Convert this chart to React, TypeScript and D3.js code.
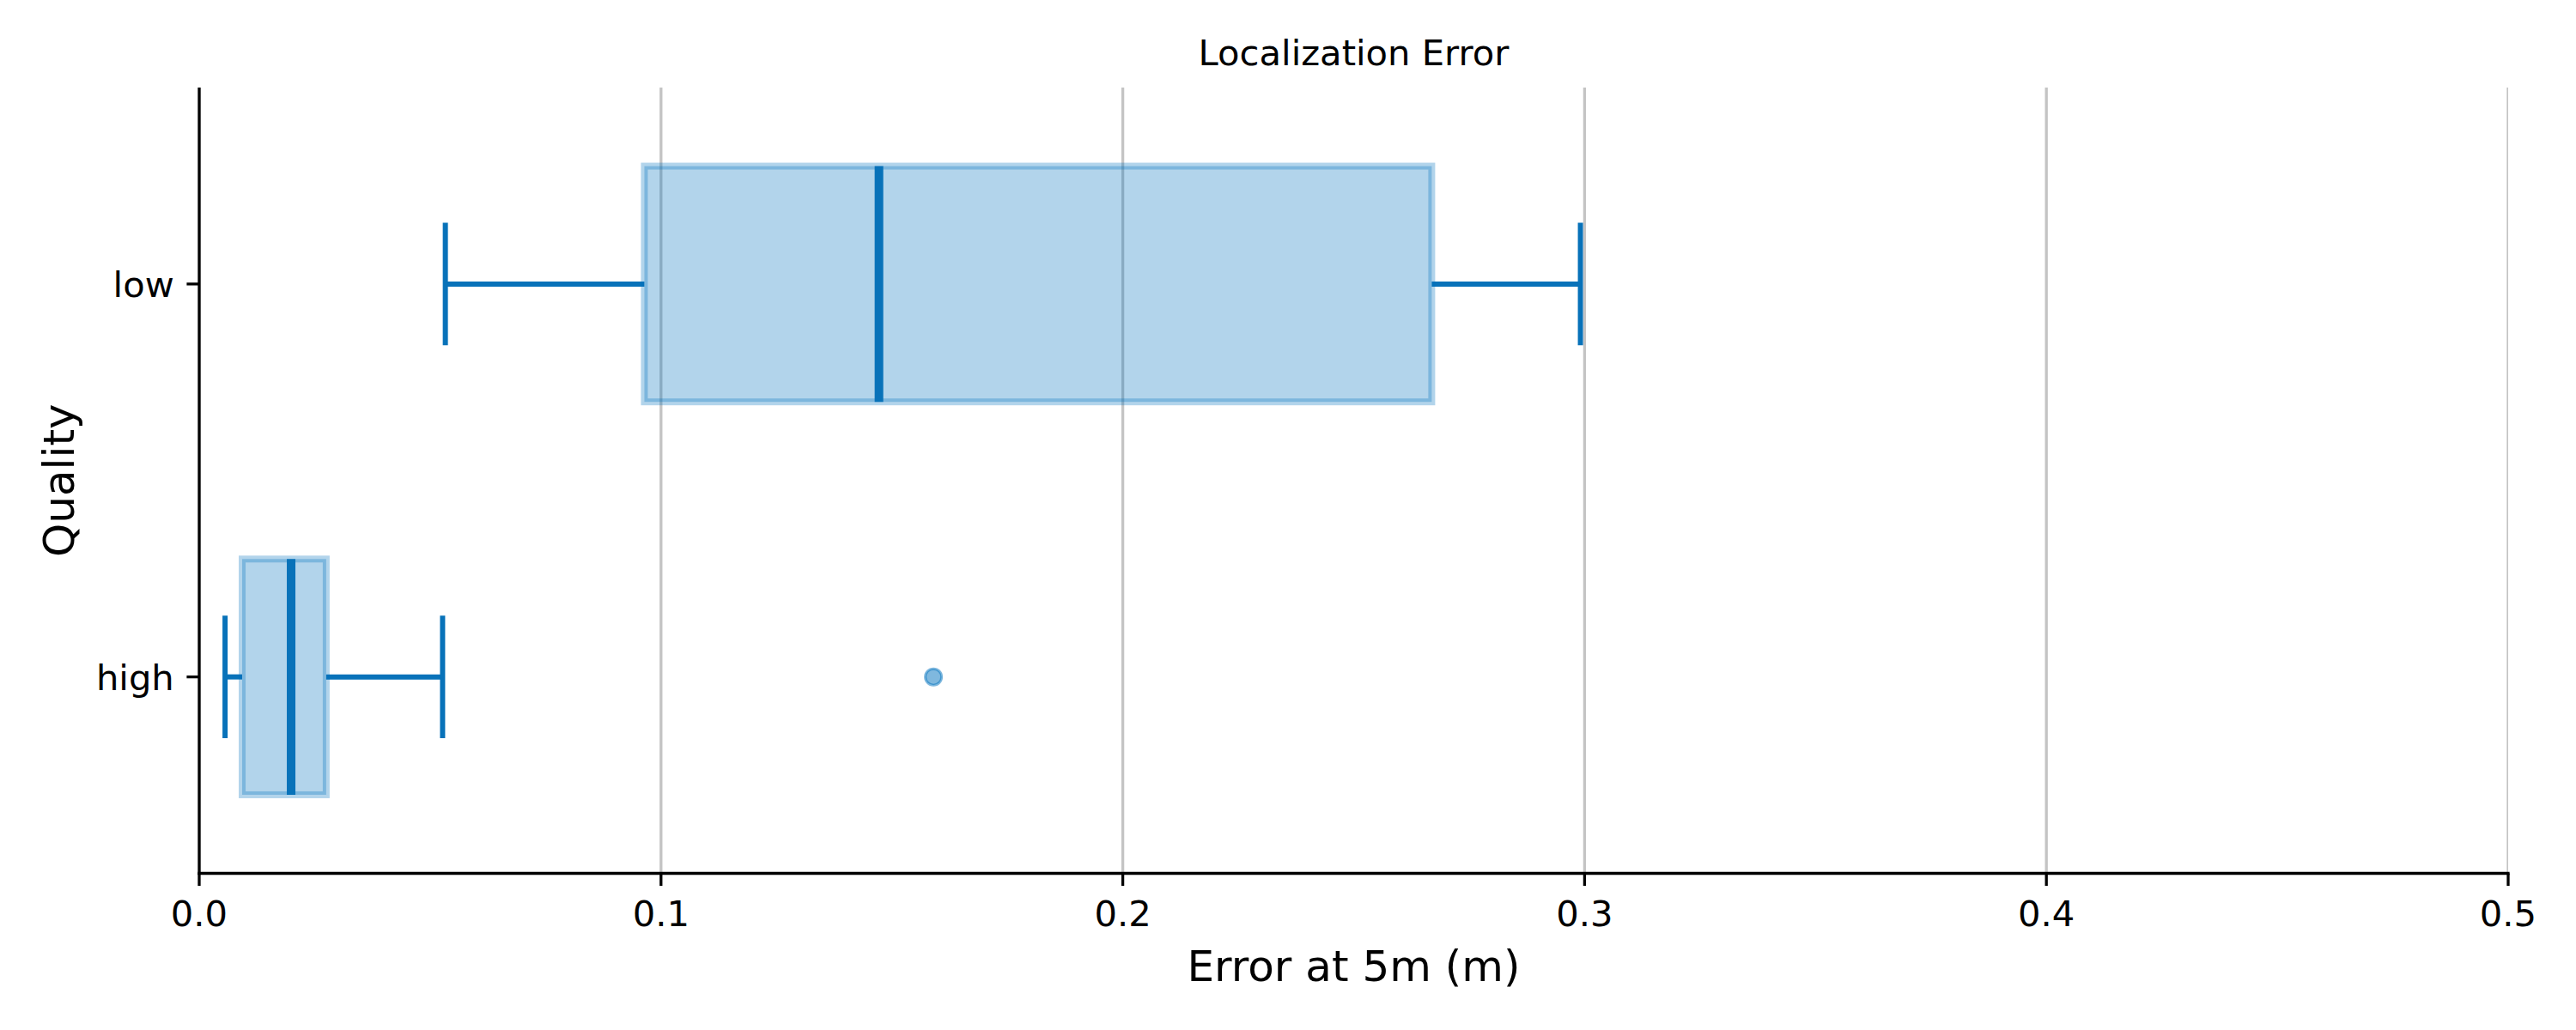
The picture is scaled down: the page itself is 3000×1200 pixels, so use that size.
import React from "react";
import * as d3 from "d3";

const categories = ["high", "low"];
const q1 = [0.0093, 0.0964];
const medians = [0.0199, 0.1472];
const q3 = [0.0275, 0.2669];
const whiskerLow = [0.0056, 0.0533];
const whiskerHigh = [0.0527, 0.2991];
const outliers = [[0.159], []];
const xTicks = [0, 0.1, 0.2, 0.3, 0.4, 0.5];

const title = "Localization Error";
const xLabel = "Error at 5m (m)";
const yLabel = "Quality";

export default function App() {
  const W = 3000, H = 1200;
  const left = 232, right = 2921, top = 102, bottom = 1017.5;
  const x = d3.scaleLinear().domain([0, 0.5]).range([left, right]);
  const y = d3.scaleLinear().domain([0.5, 2.5]).range([bottom, top]);
  const base = "rgb(8,114,185)";
  const alphaFill = "rgba(0,114,189,0.3)";
  const font = "DejaVu Sans, sans-serif";
  const boxHalf = 0.3, capHalf = 0.156;

  return (
    <svg width={W} height={H} style={{ position: "absolute", left: 0, top: 0, background: "#fff" }}>
      <defs>
        <clipPath id="axclip">
          <rect x={left} y={top} width={right - left} height={bottom - top} />
        </clipPath>
      </defs>
      <rect x={0} y={0} width={W} height={H} fill="#fff" />
      <g clipPath="url(#axclip)">
        {xTicks.map((t) => (
          <line key={t} x1={x(t)} x2={x(t)} y1={top} y2={bottom} stroke="#c4c4c4" strokeWidth={3.3} />
        ))}
      </g>
      {categories.map((c, i) => {
        const p = i + 1;
        const yc = y(p);
        const yt = y(p + boxHalf), yb = y(p - boxHalf);
        return (
          <g key={c}>
            <line x1={x(whiskerLow[i])} x2={x(q1[i])} y1={yc} y2={yc} stroke={base} strokeWidth={6} />
            <line x1={x(q3[i])} x2={x(whiskerHigh[i])} y1={yc} y2={yc} stroke={base} strokeWidth={6} />
            <line x1={x(whiskerLow[i])} x2={x(whiskerLow[i])} y1={y(p + capHalf)} y2={y(p - capHalf)} stroke={base} strokeWidth={6} />
            <line x1={x(whiskerHigh[i])} x2={x(whiskerHigh[i])} y1={y(p + capHalf)} y2={y(p - capHalf)} stroke={base} strokeWidth={6} />
            <rect x={x(q1[i])} y={yt} width={x(q3[i]) - x(q1[i])} height={yb - yt} fill={alphaFill} stroke={alphaFill} strokeWidth={8} />
            <line x1={x(medians[i])} x2={x(medians[i])} y1={yt} y2={yb} stroke={base} strokeWidth={10} />
            {outliers[i].map((o, j) => (
              <circle key={j} cx={x(o)} cy={yc} r={9.5} fill="rgba(0,114,189,0.5)" stroke="rgba(0,114,189,0.5)" strokeWidth={3} />
            ))}
          </g>
        );
      })}
      <line x1={left} x2={left} y1={top} y2={bottom + 1.6} stroke="#000" strokeWidth={3.3} />
      <line x1={left - 1.6} x2={right + 1.6} y1={bottom} y2={bottom} stroke="#000" strokeWidth={3.3} />
      {xTicks.map((t) => (
        <g key={t}>
          <line x1={x(t)} x2={x(t)} y1={bottom} y2={bottom + 14.6} stroke="#000" strokeWidth={3.3} />
          <text x={x(t)} y={1078.5} textAnchor="middle" fontFamily={font} fontSize={41.7} fill="#000">
            {t.toFixed(1)}
          </text>
        </g>
      ))}
      {categories.map((c, i) => (
        <g key={c}>
          <line x1={left - 14.6} x2={left} y1={y(i + 1)} y2={y(i + 1)} stroke="#000" strokeWidth={3.3} />
          <text x={left - 29.2} y={y(i + 1) + 15} textAnchor="end" fontFamily={font} fontSize={41.7} fill="#000">
            {c}
          </text>
        </g>
      ))}
      <text x={(left + right) / 2} y={1143} textAnchor="middle" fontFamily={font} fontSize={50} fill="#000">
        {xLabel}
      </text>
      <text transform={`translate(86,${(top + bottom) / 2}) rotate(-90)`} textAnchor="middle" fontFamily={font} fontSize={50} fill="#000">
        {yLabel}
      </text>
      <text x={(left + right) / 2} y={76} textAnchor="middle" fontFamily={font} fontSize={41.7} fill="#000">
        {title}
      </text>
    </svg>
  );
}
